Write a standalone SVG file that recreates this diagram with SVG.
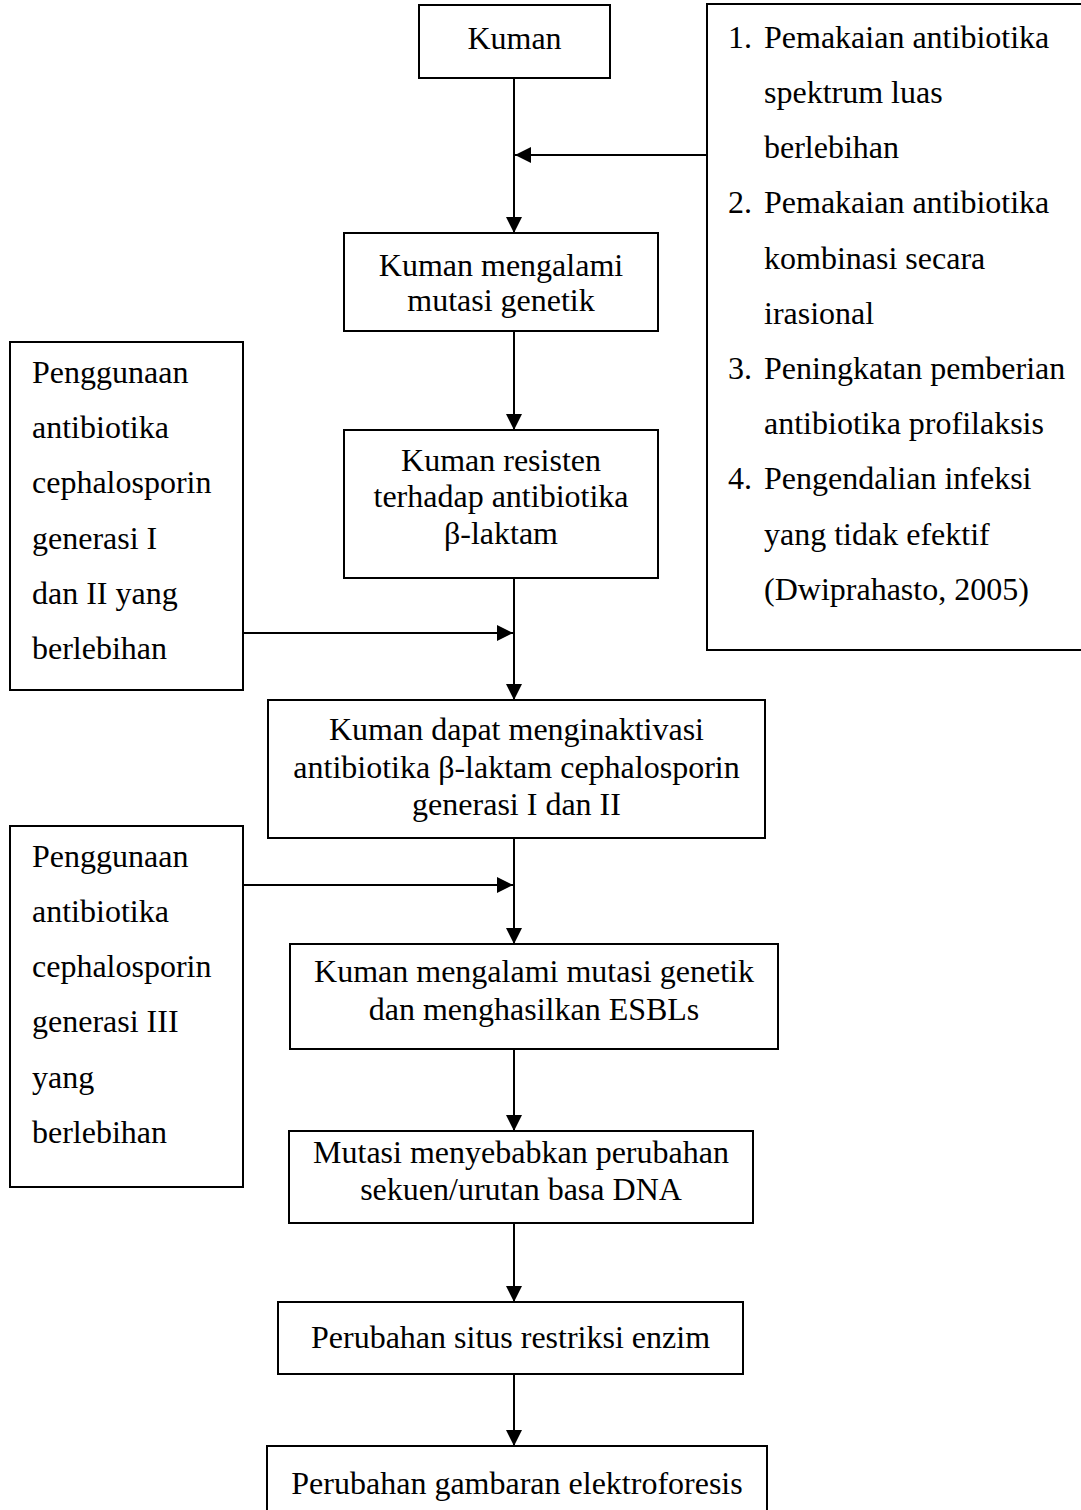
<svg xmlns="http://www.w3.org/2000/svg" width="1081" height="1510" viewBox="0 0 1081 1510">
<style>
  .box { fill: #ffffff; stroke: #000000; stroke-width: 2; }
  .t { font-family: "Liberation Serif", "Times New Roman", serif; font-size: 32px; fill: #000000; }
  .c { text-anchor: middle; }
  .ln { stroke: #000000; stroke-width: 2; fill: none; }
</style>
<defs>
  <marker id="ah" viewBox="0 0 16 16" refX="16" refY="8" markerWidth="16" markerHeight="16" markerUnits="userSpaceOnUse" orient="auto">
    <path d="M0,0 L16,8 L0,16 z" fill="#000000"/>
  </marker>
</defs>
<rect width="1081" height="1510" fill="#ffffff"/>

<g id="connectors">
  <line class="ln" x1="514" y1="78" x2="514" y2="233" marker-end="url(#ah)"/>
  <line class="ln" x1="707" y1="155" x2="515" y2="155" marker-end="url(#ah)"/>
  <line class="ln" x1="514" y1="331" x2="514" y2="430" marker-end="url(#ah)"/>
  <line class="ln" x1="514" y1="578" x2="514" y2="700" marker-end="url(#ah)"/>
  <line class="ln" x1="243" y1="633" x2="513" y2="633" marker-end="url(#ah)"/>
  <line class="ln" x1="514" y1="838" x2="514" y2="944" marker-end="url(#ah)"/>
  <line class="ln" x1="243" y1="885" x2="513" y2="885" marker-end="url(#ah)"/>
  <line class="ln" x1="514" y1="1049" x2="514" y2="1131" marker-end="url(#ah)"/>
  <line class="ln" x1="514" y1="1223" x2="514" y2="1302" marker-end="url(#ah)"/>
  <line class="ln" x1="514" y1="1374" x2="514" y2="1446" marker-end="url(#ah)"/>
</g>

<g id="n-kuman">
  <rect class="box" x="419" y="5" width="191" height="73"/>
  <text class="t c" x="514.5" y="49">Kuman</text>
</g>

<g id="n-faktor">
  <rect class="box" x="707" y="4" width="380" height="646"/>
  <text class="t" x="728" y="48">1.</text>
  <text class="t" x="764" y="48">Pemakaian antibiotika</text>
  <text class="t" x="764" y="103">spektrum luas</text>
  <text class="t" x="764" y="158">berlebihan</text>
  <text class="t" x="728" y="213">2.</text>
  <text class="t" x="764" y="213">Pemakaian antibiotika</text>
  <text class="t" x="764" y="269">kombinasi secara</text>
  <text class="t" x="764" y="324">irasional</text>
  <text class="t" x="728" y="379">3.</text>
  <text class="t" x="764" y="379">Peningkatan pemberian</text>
  <text class="t" x="764" y="434">antibiotika profilaksis</text>
  <text class="t" x="728" y="489">4.</text>
  <text class="t" x="764" y="489">Pengendalian infeksi</text>
  <text class="t" x="764" y="545">yang tidak efektif</text>
  <text class="t" x="764" y="600">(Dwiprahasto, 2005)</text>
</g>

<g id="n-mutasi">
  <rect class="box" x="344" y="233" width="314" height="98"/>
  <text class="t c" x="501" y="276">Kuman mengalami</text>
  <text class="t c" x="501" y="311">mutasi genetik</text>
</g>

<g id="n-gen12">
  <rect class="box" x="10" y="342" width="233" height="348"/>
  <text class="t" x="32" y="383">Penggunaan</text>
  <text class="t" x="32" y="438">antibiotika</text>
  <text class="t" x="32" y="493">cephalosporin</text>
  <text class="t" x="32" y="549">generasi I</text>
  <text class="t" x="32" y="604">dan II yang</text>
  <text class="t" x="32" y="659">berlebihan</text>
</g>

<g id="n-resisten">
  <rect class="box" x="344" y="430" width="314" height="148"/>
  <text class="t c" x="501" y="471">Kuman resisten</text>
  <text class="t c" x="501" y="507">terhadap antibiotika</text>
  <text class="t c" x="501" y="544">β-laktam</text>
</g>

<g id="n-inaktivasi">
  <rect class="box" x="268" y="700" width="497" height="138"/>
  <text class="t c" x="516.5" y="740">Kuman dapat menginaktivasi</text>
  <text class="t c" x="516.5" y="778">antibiotika β-laktam cephalosporin</text>
  <text class="t c" x="516.5" y="815">generasi I dan II</text>
</g>

<g id="n-gen3">
  <rect class="box" x="10" y="826" width="233" height="361"/>
  <text class="t" x="32" y="867">Penggunaan</text>
  <text class="t" x="32" y="922">antibiotika</text>
  <text class="t" x="32" y="977">cephalosporin</text>
  <text class="t" x="32" y="1032">generasi III</text>
  <text class="t" x="32" y="1088">yang</text>
  <text class="t" x="32" y="1143">berlebihan</text>
</g>

<g id="n-esbl">
  <rect class="box" x="290" y="944" width="488" height="105"/>
  <text class="t c" x="534" y="982">Kuman mengalami mutasi genetik</text>
  <text class="t c" x="534" y="1020">dan menghasilkan ESBLs</text>
</g>

<g id="n-dna">
  <rect class="box" x="289" y="1131" width="464" height="92"/>
  <text class="t c" x="521" y="1163">Mutasi menyebabkan perubahan</text>
  <text class="t c" x="521" y="1200">sekuen/urutan basa DNA</text>
</g>

<g id="n-situs">
  <rect class="box" x="278" y="1302" width="465" height="72"/>
  <text class="t c" x="510.5" y="1348">Perubahan situs restriksi enzim</text>
</g>

<g id="n-elektroforesis">
  <rect class="box" x="267" y="1446" width="500" height="80"/>
  <text class="t c" x="517" y="1494">Perubahan gambaran elektroforesis</text>
</g>
</svg>
